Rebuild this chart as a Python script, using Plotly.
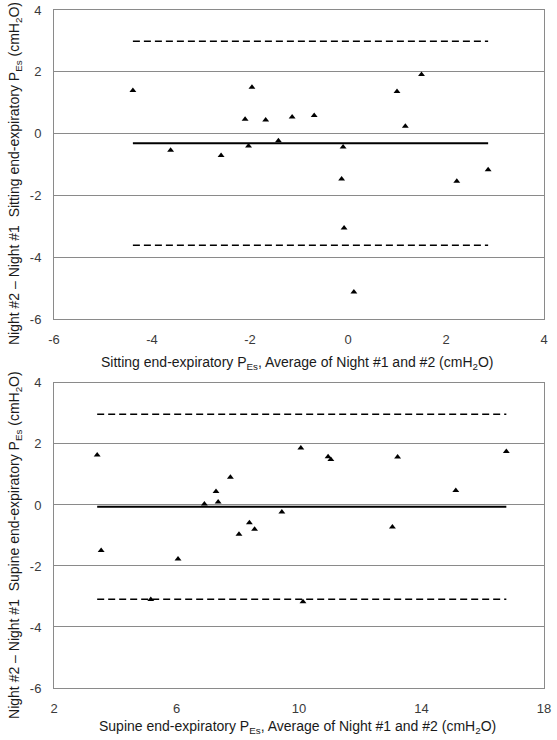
import plotly.graph_objects as go

# ---- Data: Sitting (top panel) ----
sit_avg = [-4.39, -3.62, -2.59, -2.10, -1.96, -2.03, -1.68, -1.42, -1.14, -0.69,
           -0.10, -0.13, 1.00, 1.17, 1.50, 2.22, 2.86, -0.08, 0.12]
sit_diff = [1.40, -0.54, -0.71, 0.47, 1.50, -0.40, 0.44, -0.23, 0.54, 0.59,
            -0.43, -1.47, 1.36, 0.24, 1.91, -1.54, -1.17, -3.05, -5.12]
sit_mean = -0.31
sit_upper = 2.99
sit_lower = -3.61

# ---- Data: Supine (bottom panel) ----
sup_avg = [3.41, 7.76, 7.29, 7.36, 6.91, 8.38, 8.55, 8.04, 3.54, 6.05,
           5.16, 9.44, 10.06, 10.95, 11.04, 13.22, 13.05, 15.12, 16.77, 10.13]
sup_diff = [1.64, 0.91, 0.44, 0.10, 0.03, -0.58, -0.80, -0.96, -1.49, -1.77,
            -3.10, -0.23, 1.87, 1.58, 1.49, 1.57, -0.72, 0.47, 1.75, -3.17]
sup_mean = -0.06
sup_upper = 2.97
sup_lower = -3.09

y_ticks = [-6, -4, -2, 0, 2, 4]
y_tick_labels = ["-6", "-4", "-2", "0", "2", "4"]
sit_x_ticks = [-6, -4, -2, 0, 2, 4]
sit_x_labels = ["-6", "-4", "-2", "0", "2", "4"]
sup_x_ticks = [2, 6, 10, 14, 18]
sup_x_labels = ["2", "6", "10", "14", "18"]

sit_x_title = "Sitting end-expiratory P<sub>Es</sub>, Average of Night #1 and #2 (cmH<sub>2</sub>O)"
sit_y_title = "Night #2 \u2013 Night #1  Sitting end-expiratory P<sub>Es</sub> (cmH<sub>2</sub>O)"
sup_x_title = "Supine end-expiratory P<sub>Es</sub>, Average of Night #1 and #2 (cmH<sub>2</sub>O)"
sup_y_title = "Night #2 \u2013 Night #1  Supine end-expiratory P<sub>Es</sub> (cmH<sub>2</sub>O)"

FONT = "Liberation Sans, Arial, sans-serif"
GRID = "#8a8a8a"
TICKC = "#3a3a3a"

fig = go.Figure()

def add_panel(xs, ys, mean, upper, lower, xa, ya):
    fig.add_trace(go.Scatter(x=xs, y=ys, mode="markers", xaxis=xa, yaxis=ya,
                             marker=dict(symbol="triangle-up", size=6, color="black"),
                             showlegend=False, hoverinfo="skip"))
    x0, x1 = min(xs), max(xs)
    fig.add_trace(go.Scatter(x=[x0, x1], y=[mean, mean], mode="lines", xaxis=xa, yaxis=ya,
                             line=dict(color="black", width=2), showlegend=False))
    for v in (upper, lower):
        fig.add_trace(go.Scatter(x=[x0, x1], y=[v, v], mode="lines", xaxis=xa, yaxis=ya,
                                 line=dict(color="black", width=1.5, dash="7px,4px"),
                                 showlegend=False))

add_panel(sit_avg, sit_diff, sit_mean, sit_upper, sit_lower, "x", "y")
add_panel(sup_avg, sup_diff, sup_mean, sup_upper, sup_lower, "x2", "y2")

top_dom = [0.544, 1.0]
bot_dom = [0.0, 0.45]

def zero_frac(dom, rng):
    return dom[0] + (0 - rng[0]) / (rng[1] - rng[0]) * (dom[1] - dom[0])

tickfont = dict(family=FONT, size=13, color=TICKC)
titlefont = dict(family=FONT, size=14, color="#1a1a1a")

common_x = dict(showgrid=False, zeroline=False, showline=True, mirror=True,
                linecolor=GRID, linewidth=1, ticks="", tickfont=tickfont,
                ticklabelstandoff=8, automargin=False)
common_y = dict(showgrid=True, gridcolor=GRID, gridwidth=1, zeroline=False,
                showline=True, mirror=True, linecolor=GRID, linewidth=1,
                ticks="", tickfont=tickfont, range=[-6, 4],
                tickvals=y_ticks, ticktext=y_tick_labels, ticklabelstandoff=9,
                automargin=False)

fig.update_layout(
    width=557, height=740,
    margin=dict(l=54, r=13, t=10, b=52),
    paper_bgcolor="white", plot_bgcolor="white",
    font=dict(family=FONT),
    xaxis=dict(**common_x, domain=[0, 1], anchor="y", range=[-6, 4],
               tickvals=sit_x_ticks, ticktext=sit_x_labels),
    yaxis=dict(**common_y, domain=top_dom, anchor="x"),
    xaxis2=dict(**common_x, domain=[0, 1], anchor="y2", range=[2, 18],
                tickvals=sup_x_ticks, ticktext=sup_x_labels),
    yaxis2=dict(**common_y, domain=bot_dom, anchor="x2"),
    xaxis3=dict(overlaying="x", matches="x", side="top", anchor="free",
                position=zero_frac(top_dom, [-6, 4]), ticks="outside", ticklen=4,
                tickcolor="#555555", tickvals=sit_x_ticks, showticklabels=False,
                showgrid=False, zeroline=False, showline=False, automargin=False),
    xaxis4=dict(overlaying="x2", matches="x2", side="top", anchor="free",
                position=zero_frac(bot_dom, [-6, 4]), ticks="outside", ticklen=4,
                tickcolor="#555555", tickvals=sup_x_ticks, showticklabels=False,
                showgrid=False, zeroline=False, showline=False, automargin=False),
    annotations=[
        dict(text=sit_x_title, xref="paper", yref="paper", x=0.496, y=0.479,
             xanchor="center", yanchor="middle", showarrow=False, font=titlefont),
        dict(text=sup_x_title, xref="paper", yref="paper", x=0.496, y=-0.0575,
             xanchor="center", yanchor="middle", showarrow=False, font=titlefont),
        dict(text=sit_y_title, xref="paper", yref="paper", x=-0.0796, y=0.7596,
             xanchor="center", yanchor="middle", textangle=-90, showarrow=False, font=titlefont),
        dict(text=sup_y_title, xref="paper", yref="paper", x=-0.0796, y=0.211,
             xanchor="center", yanchor="middle", textangle=-90, showarrow=False, font=titlefont),
    ],
)

fig.write_html("out.html",
               config={"displayModeBar": False},
               post_script="document.body.style.margin='0';document.body.style.overflow='hidden';")
